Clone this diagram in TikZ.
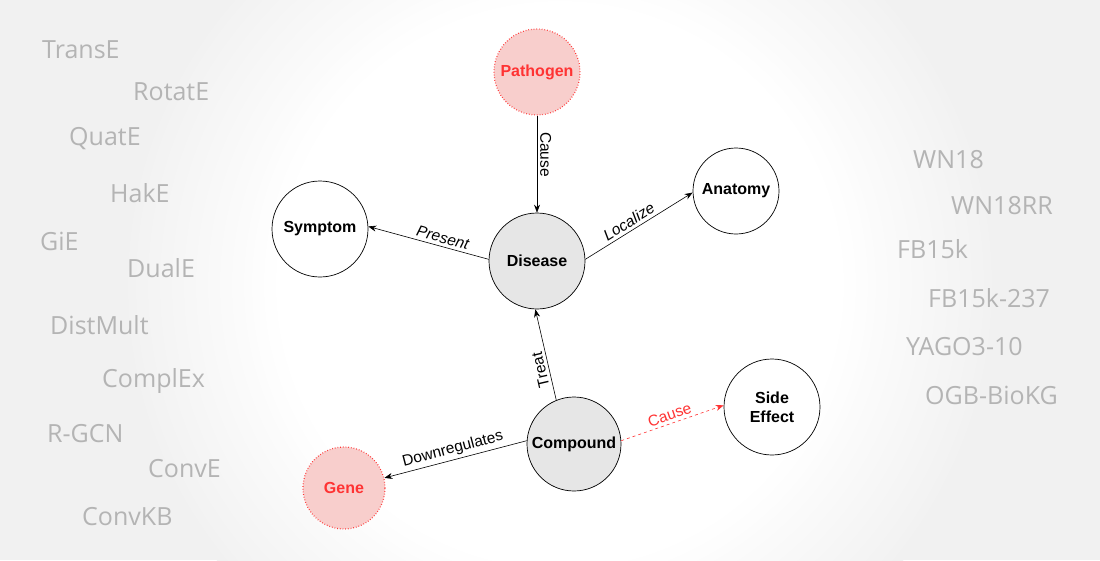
\documentclass[tikz,border=0pt]{standalone}
\usepackage{fontspec}
\setmainfont{Liberation Sans}
\newfontfamily\modelfont{Open Sans}
\usepackage{tikz}
\usetikzlibrary{positioning, arrows.meta, calc}

\definecolor{nodegray}{HTML}{E6E6E6}
\definecolor{pinkfill}{HTML}{F8CECC}
\definecolor{alertred}{HTML}{FF3333}
\definecolor{bgtext}{HTML}{B4B4B4}
\definecolor{bggray}{HTML}{F1F1F1}

\begin{document}
\begin{tikzpicture}[
            x=1pt, y=-1pt,
            entity/.style={draw=black, line width=0.7pt, circle, fill=white, inner sep=0pt, align=center, font=\fontsize{16}{19}\selectfont\bfseries},
            mainentity/.style={entity, fill=nodegray},
            masked/.style={entity, draw=alertred, dotted, line width=1.2pt, fill=pinkfill, text=alertred},
            rel/.style={-{Stealth[length=8pt, width=6pt]}, line width=0.6pt},
            reltext/.style={font=\fontsize{15.5}{18}\selectfont, inner sep=3pt},
            reltextit/.style={reltext, font=\fontsize{15.5}{18}\selectfont\itshape},
            model/.style={anchor=west, inner sep=0pt, text=bgtext, font=\modelfont\fontsize{25}{28}\selectfont}
        ]

        % Hintergrund
        \useasboundingbox (0,0) rectangle (1100,560);
        \begin{scope}
            \clip (0,0) rectangle (1100,560);
            \fill[bggray] (0,0) rectangle (1100,560);
            \foreach \k in {0,...,40} {
                \pgfmathsetmacro{\rad}{440-4*\k}
                \pgfmathtruncatemacro{\mix}{100-2.5*\k}
                \fill[bggray!\mix!white] (560,285) circle[radius=\rad];
            }
        \end{scope}

        % Modelle
        \node[model] (transe) at (42,50) {TransE};
        \node[model] (rotate) at (133,92) {RotatE};
        \node[model] (quate) at (69,139) {QuatE};
        \node[model] (hake) at (110,193) {HakE};
        \node[model] (gie) at (40,241) {GiE};
        \node[model] (duale) at (127,268) {DualE};
        \node[model] (distmult) at (50,325) {DistMult};
        \node[model] (complex) at (102,381) {ComplEx};
        \node[model] (rgcn) at (47,434) {R-GCN};
        \node[model] (conve) at (148,469) {ConvE};
        \node[model] (convkb) at (82,517) {ConvKB};

        % Datensaetze
        \node[model] (wn) at (913,160) {WN18};
        \node[model] (wnrr) at (951,206) {WN18RR};
        \node[model] (fb) at (897,249) {FB15k};
        \node[model] (fbsub) at (928,298) {FB15k-237};
        \node[model] (yago) at (906,347) {YAGO3-10};
        \node[model] (biokg) at (925,395) {OGB-BioKG};

        % Knoten
        \node[masked, minimum size=86pt] (pathogen) at (537,72) {Pathogen};
        \node[mainentity, minimum size=96pt] (disease) at (537,261) {Disease};
        \node[entity, minimum size=96pt] (symptom) at (320,229) {Symptom};
        \node[entity, minimum size=86pt] (anatomy) at (736,191) {Anatomy};
        \node[mainentity, minimum size=94pt] (compound) at (574,444) {Compound};
        \node[entity, minimum size=96pt] (sideeffect) at (772,407) {Side\\Effect};
        \node[masked, minimum size=82pt] (gene) at (344,488) {Gene};

        % Kanten
        \draw[rel] (pathogen) -- (disease) node[pos=0.4, rotate=-90, anchor=south, reltext] {Cause};
        \draw[rel] (disease.178) -- (symptom.3) node[pos=0.4, sloped, above, reltextit] {Present};
        \draw[rel] (disease.2) -- (anatomy.182) node[pos=0.45, sloped, above, reltextit] {Localize};
        \draw[rel] (compound.112) -- (disease.268) node[pos=0.35, sloped, allow upside down, above, reltext] {Treat};
        \draw[rel] (compound.176) -- (gene.14) node[midway, sloped, above, reltext] {Downregulates};
        \draw[rel, alertred, dash pattern=on 3pt off 3pt] (compound.4) -- (sideeffect.178) node[midway, sloped, above, reltext, text=alertred] {Cause};

    \end{tikzpicture}
\end{document}
